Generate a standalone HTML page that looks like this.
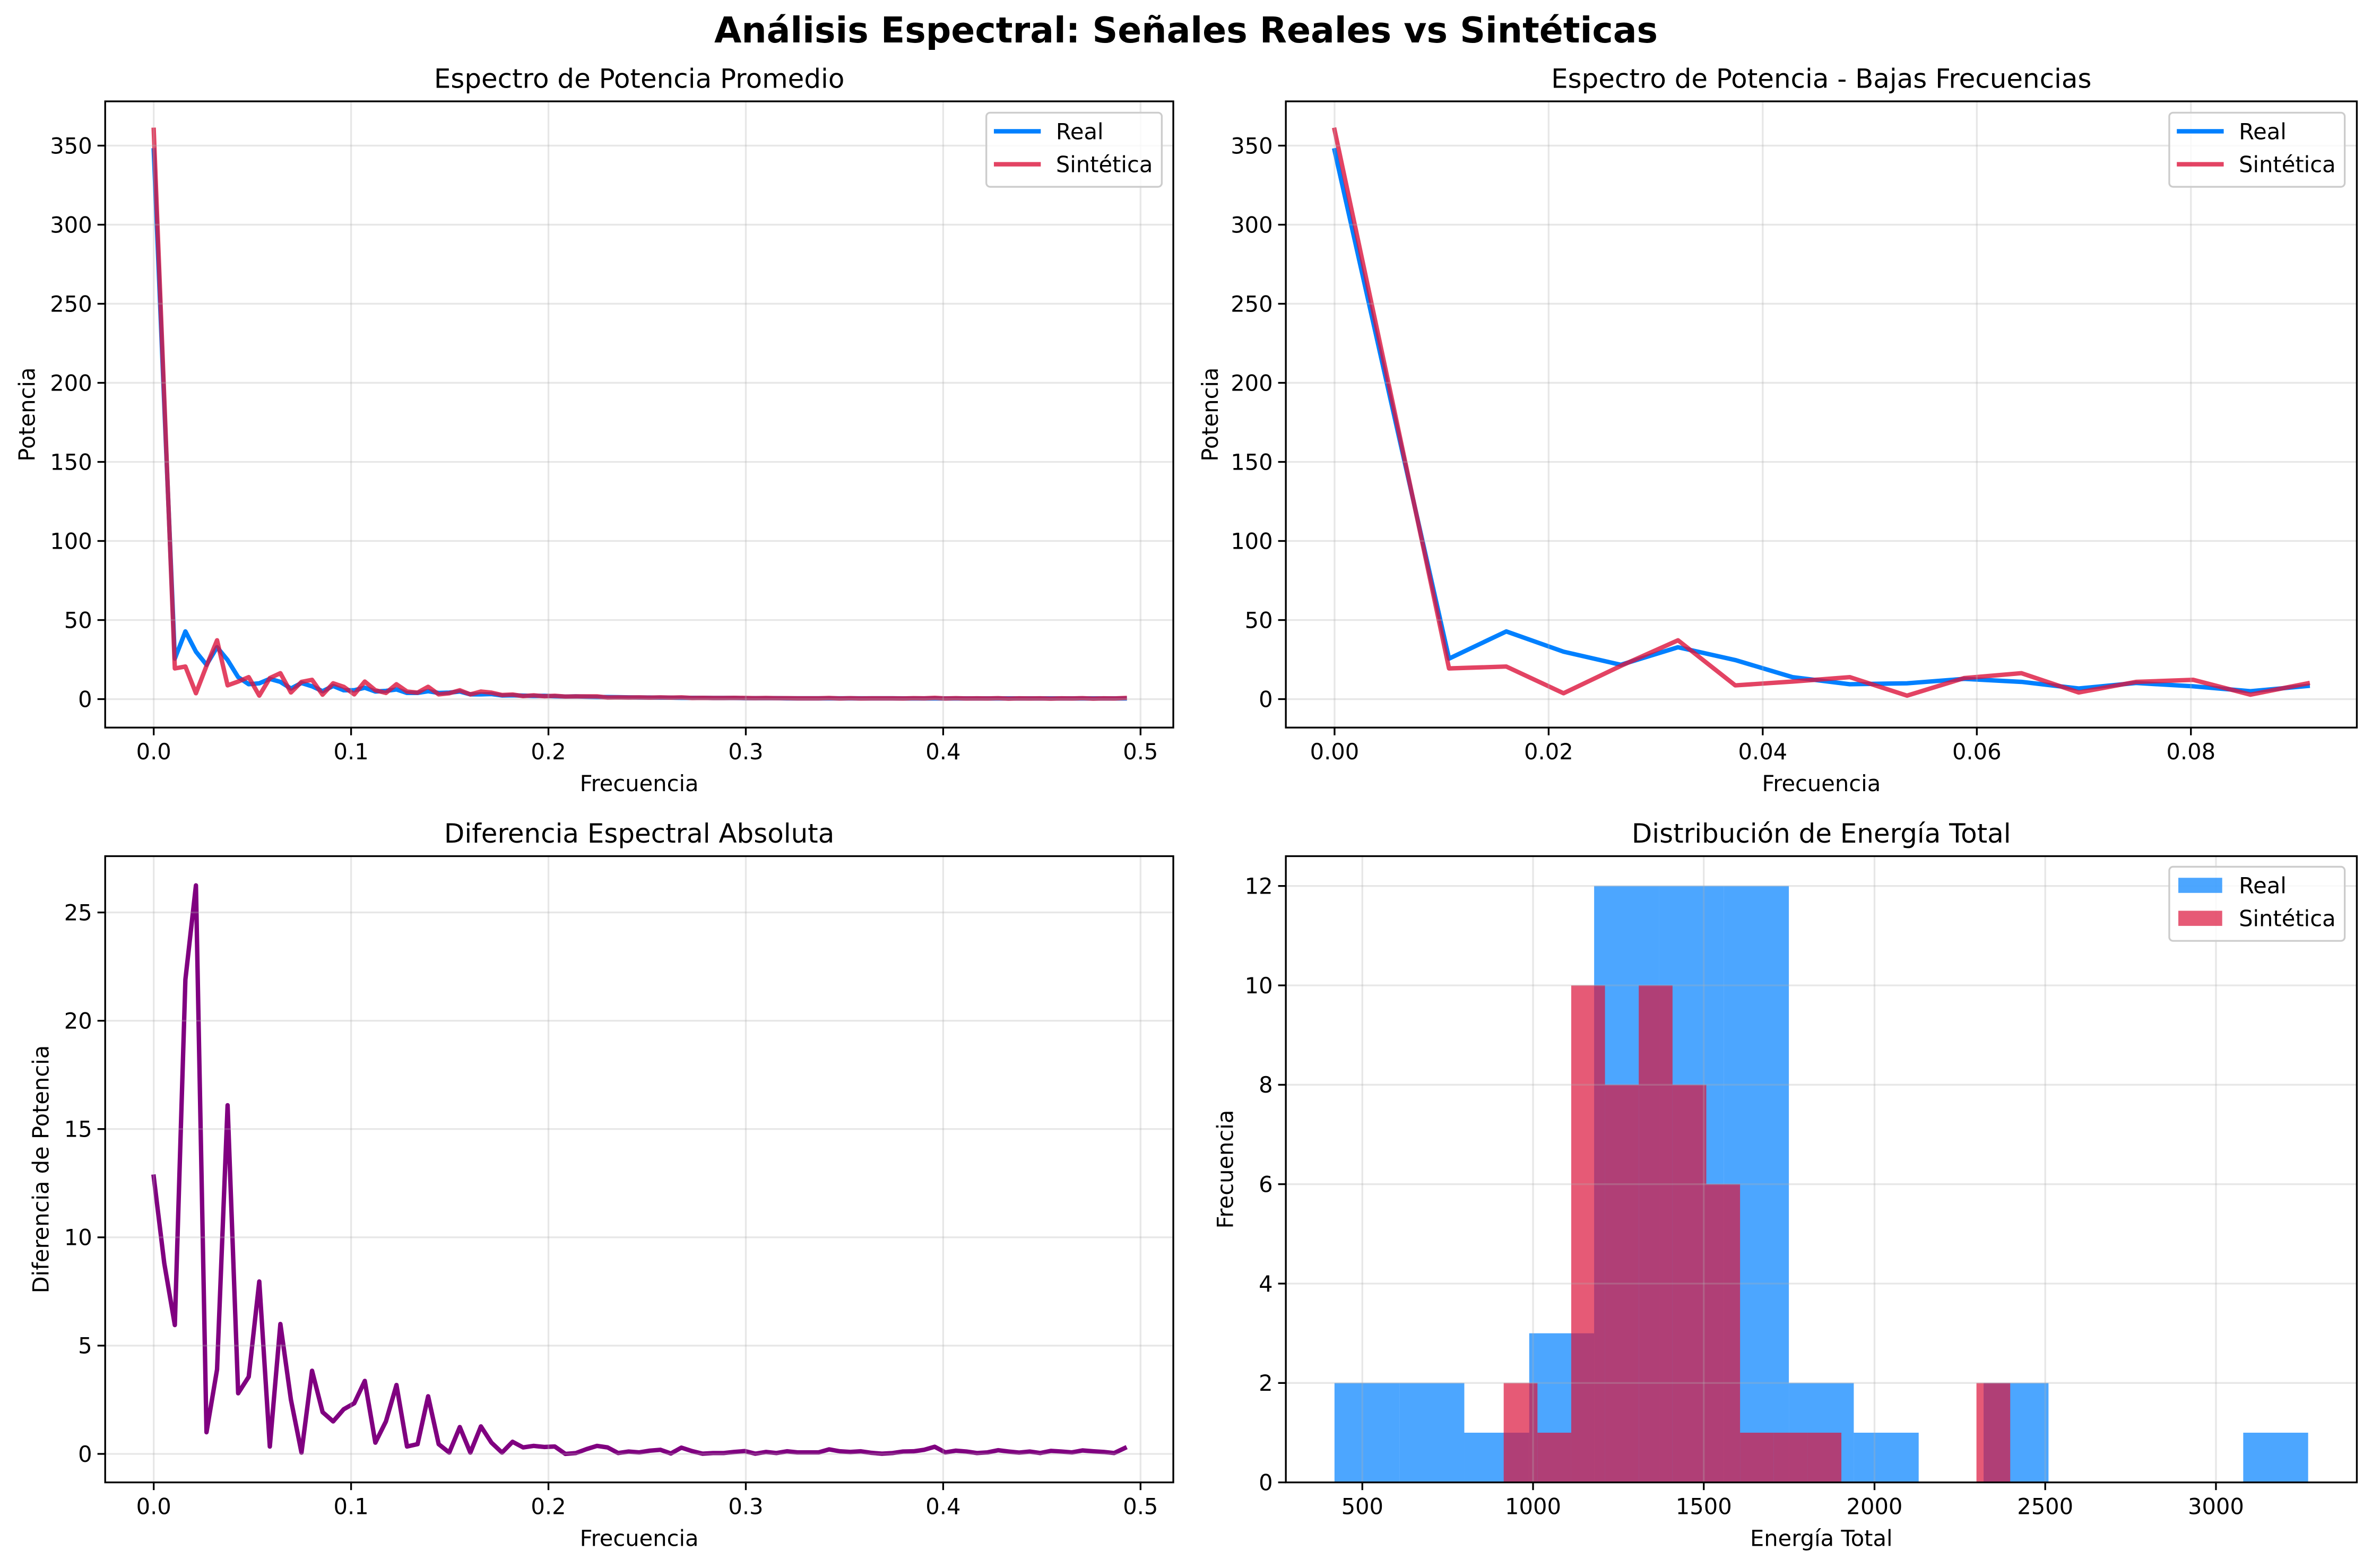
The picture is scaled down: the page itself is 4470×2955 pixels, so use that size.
<!DOCTYPE html>
<html><head><meta charset="utf-8"><style>
html,body{margin:0;padding:0;background:#fff;}
svg{display:block;}
text{font-family:"DejaVu Sans","Liberation Sans",sans-serif;fill:#000;}
</style></head><body>
<svg id="fig" xmlns="http://www.w3.org/2000/svg" width="4470" height="2955" viewBox="0 0 1568 1036.6">
<rect width="1568" height="1036.6" fill="#fff"/>
<text x="784" y="28" text-anchor="middle" font-size="23.3" font-weight="bold">Análisis Espectral: Señales Reales vs Sintéticas</text>
</svg>
<script>
// ---- data ----
const realPower = [347,186,25.6,42.8,30,21.7,32.8,24.7,13.9,9.4,10,12.8,10.9,6.7,10.2,8.1,5,8.3,
5.6,5.6,7.2,4.8,5.2,6.1,3.9,3.9,5,3.9,4.1,4.8,3,3,3.2,2.3,
2.4,2.2,2.0,2.1,1.8,1.6,1.7,1.5,1.3,1.3,1.2,1.1,1.0,1.0,0.9,0.9,0.8,0.8,0.8,0.7,0.7,0.7,0.6,0.6,0.6,0.6,
0.5,0.5,0.5,0.5,0.5,0.5,0.5,0.5,0.5,0.5,0.5,0.45,0.45,0.45,0.45,0.45,0.45,0.45,0.45,0.45,0.45,0.45,0.45,0.45,0.45,0.45,0.45,0.45,0.45,0.45,0.45,0.45,0.45];
const synthPower = [360,190,19.4,20.6,3.7,21,37.2,8.7,11.1,13.9,2.2,13.3,16.4,4.2,10.9,12.2,2.8,10,
7.8,3,11.1,5.6,3.9,9.4,4.8,4.1,7.8,3,3.7,5.6,3,4.8,4.1,2.6,
2.9,1.9,2.4,1.8,2.1,1.6,1.7,1.7,1.7,1.0,1.1,1.0,1.1,0.9,1.1,0.9,1.1,0.7,0.8,0.7,0.7,0.8,0.7,0.6,0.7,0.6,
0.6,0.5,0.5,0.5,0.7,0.4,0.6,0.4,0.5,0.5,0.5,0.4,0.6,0.5,0.8,0.4,0.6,0.4,0.5,0.4,0.6,0.3,0.5,0.4,0.5,0.3,0.5,0.4,0.6,0.3,0.5,0.4,0.7];
const diffPower = [12.8,8.8,5.95,21.9,26.25,1.0,3.9,16.1,2.8,3.56,7.96,0.34,6.0,2.5,0.06,3.84,1.93,1.5,2.06,2.34,3.37,0.52,1.5,3.18,0.34,0.45,2.66,0.45,0.06,1.24,0.06,1.27,0.52,0.06,0.56,0.3,0.37,0.32,0.34,0,0.04,0.22,0.37,0.3,0.04,0.11,0.07,0.15,0.19,0.02,0.29,0.13,0.01,0.04,0.04,0.09,0.13,0.01,0.09,0.04,0.12,0.07,0.07,0.07,0.21,0.12,0.09,0.12,0.05,0.01,0.04,0.11,0.12,0.19,0.33,0.07,0.15,0.11,0.04,0.07,0.17,0.11,0.06,0.11,0.04,0.14,0.11,0.07,0.16,0.12,0.09,0.04,0.27];
const freqStep = 1/187;
const lowFreqCount = 18;
const realHistStart = 418.5, realHistWidth = 190.1;
const realHistCounts = [2,2,1,3,12,12,12,2,1,0,2,0,0,0,1];
const synthHistStart = 914, synthHistWidth = 98.9;
const synthHistCounts = [2,1,10,8,10,8,6,1,1,1,0,0,0,0,2];
const specXTicks = [0,0.1,0.2,0.3,0.4,0.5];
const specXLabels = ["0.0","0.1","0.2","0.3","0.4","0.5"];
const powYTicks = [0,50,100,150,200,250,300,350];
const lowXTicks = [0,0.02,0.04,0.06,0.08];
const lowXLabels = ["0.00","0.02","0.04","0.06","0.08"];
const diffYTicks = [0,5,10,15,20,25];
const histXTicks = [500,1000,1500,2000,2500,3000];
const histYTicks = [0,2,4,6,8,10,12];

const NS = "http://www.w3.org/2000/svg";
const fig = document.getElementById('fig');
function mk(tag, attrs, parent){
  const e = document.createElementNS(NS, tag);
  for (const k in attrs) e.setAttribute(k, attrs[k]);
  (parent||fig).appendChild(e);
  return e;
}
function makeAxes(id, box, xmin, xmax, ymin, ymax){
  const g = mk('g', {});
  
  
  const cp = mk('clipPath', {id: id+'-clip'}, g);
  mk('rect', {x: box.x0, y: box.y0, width: box.x1-box.x0, height: box.y1-box.y0}, cp);
  const ax = {g, box,
    sx: v => box.x0 + (v-xmin)/(xmax-xmin)*(box.x1-box.x0),
    sy: v => box.y1 - (v-ymin)/(ymax-ymin)*(box.y1-box.y0)};
  ax.plot = mk('g', {'clip-path': 'url(#'+id+'-clip)'}, g);
  return ax;
}
function grid(ax, xt, yt){
  const b = ax.box;
  xt.forEach(v => {
    const l = mk('line', {x1: ax.sx(v), x2: ax.sx(v), y1: b.y0, y2: b.y1, stroke: '#b0b0b0', 'stroke-opacity': 0.3, 'stroke-width': 1.17}, ax.g);
    
    
  });
  yt.forEach(v => {
    const l = mk('line', {x1: b.x0, x2: b.x1, y1: ax.sy(v), y2: ax.sy(v), stroke: '#b0b0b0', 'stroke-opacity': 0.3, 'stroke-width': 1.17}, ax.g);
    
    
  });
}
function frame(ax, xt, xl, yt, yl, title, xlabel, ylabel, ylabX){
  const b = ax.box;
  const r = mk('rect', {x: b.x0, y: b.y0, width: b.x1-b.x0, height: b.y1-b.y0, fill: 'none', stroke: '#000', 'stroke-width': 1.17}, ax.g);
  
  
  xt.forEach((v,i) => {
    mk('line', {x1: ax.sx(v), x2: ax.sx(v), y1: b.y1, y2: b.y1+5.1, stroke: '#000', 'stroke-width': 1.17}, ax.g);
    const t = mk('text', {x: ax.sx(v), y: b.y1+21, 'text-anchor': 'middle', 'font-size': 14.6}, ax.g);
    t.textContent = xl[i];
    
    
  });
  yt.forEach((v,i) => {
    mk('line', {x1: b.x0-5.1, x2: b.x0, y1: ax.sy(v), y2: ax.sy(v), stroke: '#000', 'stroke-width': 1.17}, ax.g);
    const t = mk('text', {x: b.x0-8.6, y: ax.sy(v)+5.2, 'text-anchor': 'end', 'font-size': 14.6}, ax.g);
    t.textContent = yl[i];
    
    
  });
  const tt = mk('text', {x: (b.x0+b.x1)/2, y: b.y0-9, 'text-anchor': 'middle', 'font-size': 17.5}, ax.g);
  tt.textContent = title;
  
  
  const xt2 = mk('text', {x: (b.x0+b.x1)/2, y: b.y1+42, 'text-anchor': 'middle', 'font-size': 14.6}, ax.g);
  xt2.textContent = xlabel;
  
  
  const cy = (b.y0+b.y1)/2;
  const yt2 = mk('text', {x: ylabX, y: cy, 'text-anchor': 'middle', 'font-size': 14.6, transform: 'rotate(-90 '+ylabX+' '+cy+')'}, ax.g);
  yt2.textContent = ylabel;
  
  
}
function line(ax, ys, color, op, name){
  const d = ys.map((v,k) => (k?'L':'M') + ax.sx(k*freqStep).toFixed(2) + ' ' + ax.sy(v).toFixed(2)).join(' ');
  const p = mk('path', {d, fill: 'none', stroke: color, 'stroke-opacity': op, 'stroke-width': 2.92, 'stroke-linejoin': 'round', 'stroke-linecap': 'square'}, ax.plot);
  
  
}
function bars(ax, start, width, counts, color, name){
  counts.forEach((c,i) => {
    if (!c) return;
    const xa = ax.sx(start+i*width), xb = ax.sx(start+(i+1)*width);
    const r = mk('rect', {x: xa, y: ax.sy(c), width: xb-xa, height: ax.sy(0)-ax.sy(c), fill: color, 'fill-opacity': 0.7}, ax.plot);
    
    
  });
}
function legend(ax, x0, y0, entries, patch){
  const g = mk('g', {}, ax.g);
  
  
  mk('rect', {x: x0, y: y0, width: 116, height: 49, rx: 2.5, fill: '#fff', 'fill-opacity': 0.8, stroke: '#ccc', 'stroke-width': 1.17}, g);
  entries.forEach((e,i) => {
    const cy = y0 + 12.3 + i*21.8;
    if (patch) mk('rect', {x: x0+6, y: cy-5, width: 29, height: 10, fill: e.c, 'fill-opacity': 0.7}, g);
    else mk('line', {x1: x0+5, x2: x0+36, y1: cy, y2: cy, stroke: e.c, 'stroke-opacity': e.o, 'stroke-width': 2.92}, g);
    const t = mk('text', {x: x0+46, y: cy+5.2, 'font-size': 14.6}, g);
    t.textContent = e.t;
    
    
  });
}
const BLUE = '#0080ff', RED = '#dc143c';
const L = {x0: 69.5, x1: 775.6}, R = {x0: 850, x1: 1558};
const T = {y0: 67, y1: 481}, B = {y0: 566, y1: 980};
const pyl = powYTicks.map(String);

// Top-left
const a1 = makeAxes('power-spectrum-axes', {x0: L.x0, x1: L.x1, y0: T.y0, y1: T.y1}, -0.0246, 0.5166, -18, 378);
grid(a1, specXTicks, powYTicks);
line(a1, realPower, BLUE, 1, 'real-power-line');
line(a1, synthPower, RED, 0.8, 'synthetic-power-line');
frame(a1, specXTicks, specXLabels, powYTicks, pyl, 'Espectro de Potencia Promedio', 'Frecuencia', 'Potencia', 23);
legend(a1, 652, 74.5, [{t: 'Real', c: BLUE, o: 1}, {t: 'Sintética', c: RED, o: 0.8}], false);

// Top-right
const a2 = makeAxes('low-frequency-axes', {x0: R.x0, x1: R.x1, y0: T.y0, y1: T.y1}, -0.00455, 0.0955, -18, 378);
grid(a2, lowXTicks, powYTicks);
line(a2, realPower.slice(0, lowFreqCount), BLUE, 1, 'real-low-freq-line');
line(a2, synthPower.slice(0, lowFreqCount), RED, 0.8, 'synthetic-low-freq-line');
frame(a2, lowXTicks, lowXLabels, powYTicks, pyl, 'Espectro de Potencia - Bajas Frecuencias', 'Frecuencia', 'Potencia', 805);
legend(a2, 1434, 74.5, [{t: 'Real', c: BLUE, o: 1}, {t: 'Sintética', c: RED, o: 0.8}], false);

// Bottom-left
const a3 = makeAxes('difference-axes', {x0: L.x0, x1: L.x1, y0: B.y0, y1: B.y1}, -0.0246, 0.5166, -1.315, 27.6);
grid(a3, specXTicks, diffYTicks);
line(a3, diffPower, '#800080', 1, 'difference-line');
frame(a3, specXTicks, specXLabels, diffYTicks, diffYTicks.map(String), 'Diferencia Espectral Absoluta', 'Frecuencia', 'Diferencia de Potencia', 32);

// Bottom-right
const a4 = makeAxes('energy-histogram-axes', {x0: R.x0, x1: R.x1, y0: B.y0, y1: B.y1}, 276, 3412.6, 0, 12.6);
grid(a4, histXTicks, histYTicks);
bars(a4, realHistStart, realHistWidth, realHistCounts, BLUE, 'real-hist-bar');
bars(a4, synthHistStart, synthHistWidth, synthHistCounts, RED, 'synthetic-hist-bar');
frame(a4, histXTicks, histXTicks.map(String), histYTicks, histYTicks.map(String), 'Distribución de Energía Total', 'Energía Total', 'Frecuencia', 815);
legend(a4, 1434, 573, [{t: 'Real', c: BLUE}, {t: 'Sintética', c: RED}], true);
</script>
</body></html>
